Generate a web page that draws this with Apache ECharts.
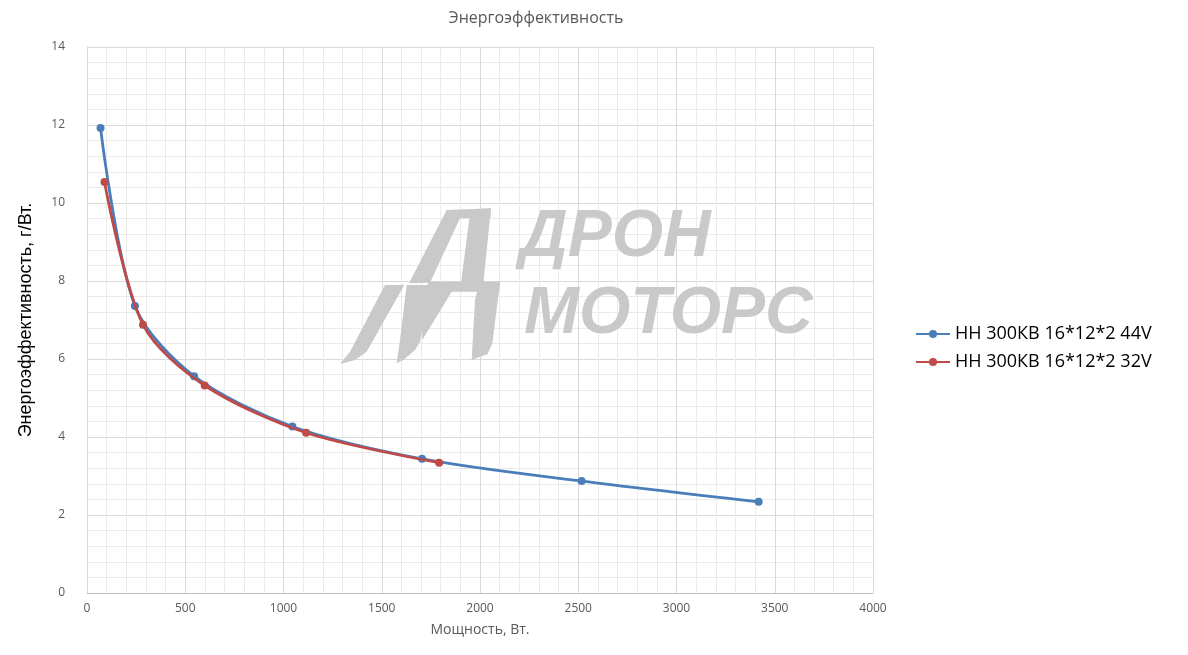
<!DOCTYPE html>
<html>
<head>
<meta charset="utf-8">
<script src="https://cdn.jsdelivr.net/npm/echarts@6/dist/echarts.min.js"></script>
<style>
html,body{margin:0;padding:0;background:#fff;}
#chart{width:1188px;height:655px;}
</style>
</head>
<body>
<div id="chart"></div>
<script>
const seriesNames = ['НН 300КВ 16*12*2 44V', 'НН 300КВ 16*12*2 32V'];
const blueX = [69, 244, 545, 1045, 1705, 2517, 3418];
const blueY = [11.92, 7.36, 5.56, 4.27, 3.44, 2.87, 2.34];
const redX = [89, 285, 599, 1115, 1792];
const redY = [10.54, 6.88, 5.32, 4.11, 3.34];
const xTicks = [0, 500, 1000, 1500, 2000, 2500, 3000, 3500, 4000];
const yTicks = [0, 2, 4, 6, 8, 10, 12, 14];

const chart = echarts.init(document.getElementById('chart'));

// watermark logo polygons (decoration only)
function tp(pts){ return pts.map(p => [335 + p[0]/3, 200 + p[1]/3]); }
const logoPolys = [
  [[335,30],[382,30],[375,55],[285,248],[222,250]],
  [[405,30],[468,25],[445,250],[378,250],[403,55]],
  [[335,30],[468,25],[466,55],[325,55]],
  [[150,255],[208,255],[95,455],[60,480],[15,492],[45,455]],
  [[215,255],[285,255],[255,425],[240,450],[205,480],[185,490],[195,420]],
  [[280,245],[495,245],[492,275],[350,275],[262,420],[258,330]],
  [[432,250],[495,245],[472,430],[458,462],[410,480],[420,300]]
];
const graphics = logoPolys.map(p => ({
  type: 'polygon', shape: { points: tp(p) },
  style: { fill: '#c9c9c9' }, z: 1, silent: true
}));
graphics.push({
  type: 'text', left: 520, top: 205, z: 1, silent: true,
  style: { text: 'ДРОН', fill: '#c9c9c9', font: 'italic bold 66px "Liberation Sans"' }
});
graphics.push({
  type: 'text', left: 524, top: 282, z: 1, silent: true,
  style: { text: 'МОТОРС', fill: '#c9c9c9', font: 'italic bold 66px "Liberation Sans"' }
});

function pairs(xs, ys){ return xs.map((x,i)=>[x, ys[i]]); }

chart.setOption({
  animation: false,
  title: {
    text: 'Энергоэффективность',
    left: 531, top: 5, textAlign: 'center',
    textStyle: { fontFamily: 'Open Sans', fontWeight: 'normal', fontSize: 16, color: '#595959' }
  },
  graphic: graphics,
  legend: {
    orient: 'vertical',
    left: 910, top: 320,
    itemWidth: 34, itemHeight: 10, itemGap: 10,
    textStyle: { fontFamily: 'Open Sans', fontSize: 18, color: '#000' },
    data: seriesNames
  },
  grid: { left: 87, right: 315, top: 47, bottom: 62, containLabel: false },
  xAxis: {
    type: 'value', min: 0, max: 4000, interval: 500,
    name: 'Мощность, Вт.', nameLocation: 'middle', nameGap: 30,
    nameTextStyle: { fontFamily: 'Open Sans', fontSize: 14, color: '#595959' },
    axisLine: { show: true, lineStyle: { color: '#bfbfbf' } },
    axisTick: { show: false },
    axisLabel: { fontFamily: 'Open Sans', fontSize: 12, color: '#595959', margin: 10,
      formatter: v => String(v) },
    splitLine: { show: true, lineStyle: { color: '#d9d9d9', width: 1 } },
    minorTick: { show: false, splitNumber: 5 },
    minorSplitLine: { show: true, lineStyle: { color: '#ebebeb', width: 1 } }
  },
  yAxis: {
    type: 'value', min: 0, max: 14, interval: 2,
    name: 'Энергоэффективность, г/Вт.', nameLocation: 'middle', nameGap: 52,
    nameTextStyle: { fontFamily: 'Liberation Sans', fontSize: 18, color: '#000' },
    axisLine: { show: true, lineStyle: { color: '#d9d9d9' } },
    axisTick: { show: false },
    axisLabel: { fontFamily: 'Open Sans', fontSize: 12, color: '#595959', margin: 22,
      formatter: v => String(v) },
    splitLine: { show: true, lineStyle: { color: '#d9d9d9', width: 1 } },
    minorTick: { show: false, splitNumber: 5 },
    minorSplitLine: { show: true, lineStyle: { color: '#ebebeb', width: 1 } }
  },
  series: [
    {
      name: seriesNames[0], type: 'line', data: pairs(blueX, blueY),
      smooth: 0.3,
      symbol: 'circle', symbolSize: 8, z: 3,
      lineStyle: { color: '#4a7ebb', width: 2.8 },
      itemStyle: { color: '#4a7ebb' }
    },
    {
      name: seriesNames[1], type: 'line', data: pairs(redX, redY),
      smooth: 0.3,
      symbol: 'circle', symbolSize: 8, z: 4,
      lineStyle: { color: '#be4b48', width: 2.8 },
      itemStyle: { color: '#be4b48' }
    }
  ]
});
</script>
</body>
</html>
